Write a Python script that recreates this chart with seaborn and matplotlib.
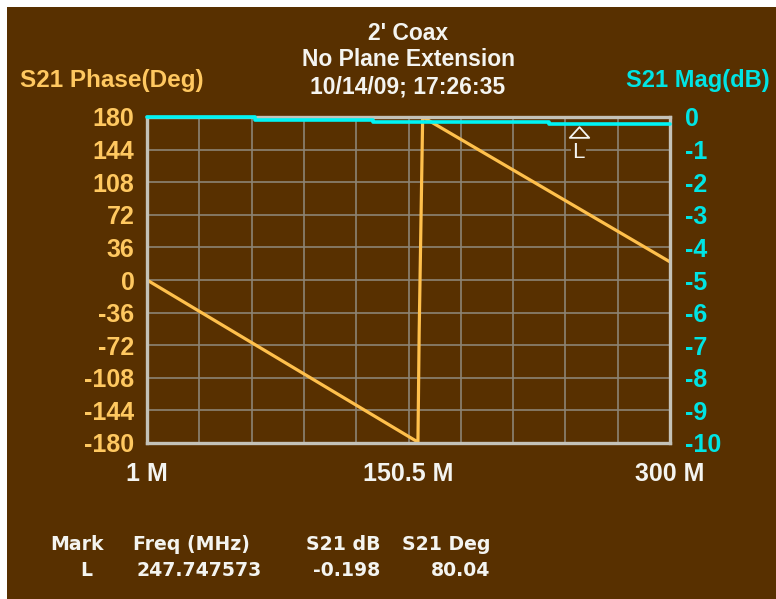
import matplotlib
matplotlib.use("Agg")
import matplotlib.pyplot as plt
import matplotlib.transforms as mtransforms
from matplotlib.patches import Rectangle
from matplotlib.path import Path
import numpy as np
import pandas as pd
import seaborn as sns

# ---- trace data -------------------------------------------------------
# S21 phase (degrees) vs frequency (MHz), wrapping at -180/+180
phase_freq = [1.0, 155.9, 156.6, 158.6, 300.0]
phase_deg = [0.0, -179.0, -58.0, 180.0, 20.0]

# S21 magnitude (dB) vs frequency (MHz)
mag_freq = [1.0, 63.0, 63.0, 130.0, 130.0, 231.0, 231.0, 300.0]
mag_db = [-0.01, -0.01, -0.09, -0.09, -0.14, -0.14, -0.20, -0.20]

# axis ticks
freq_ticks = list(np.linspace(1.0, 300.0, 11))
freq_labels = ["1 M", "", "", "", "", "150.5 M", "", "", "", "", "300 M"]
phase_ticks = [-180, -144, -108, -72, -36, 0, 36, 72, 108, 144, 180]
phase_labels = ["-180", "-144", "-108", "-72", "-36", "0", "36", "72", "108", "144", "180"]
mag_ticks = [-10, -9, -8, -7, -6, -5, -4, -3, -2, -1, 0]
mag_labels = ["-10", "-9", "-8", "-7", "-6", "-5", "-4", "-3", "-2", "-1", "0"]

# marker readout
marker_name = "L"
marker_freq = 247.747573
marker_db = -0.198
marker_deg = 80.04

# ---- style ------------------------------------------------------------
BG = "#583000"
ORANGE = "#ffc860"
TRACE_ORANGE = "#ffc04c"
CYAN_TXT = "#00e4e4"
CYAN = "#00f4f4"
GRID = "#8c8474"
FRAME = "#c4c2b8"
WHITE = "#f4f4f0"

sns.set_theme(style="dark")
plt.rcParams["font.family"] = ["Liberation Sans", "DejaVu Sans"]

W, H = 776, 599
fig = plt.figure(figsize=(W / 100, H / 100), dpi=100, facecolor=BG)
# thin white strips along the top and left edges
fig.add_artist(Rectangle((0, 1 - 7 / H), 1, 7 / H, transform=fig.transFigure,
                         facecolor="white", edgecolor="none", zorder=-5))
fig.add_artist(Rectangle((0, 0), 7 / W, 1, transform=fig.transFigure,
                         facecolor="white", edgecolor="none", zorder=-5))

ax = fig.add_axes([147 / W, 1 - 443 / H, 523 / W, 326 / H])
ax.set_facecolor(BG)

df_phase = pd.DataFrame({"freq": phase_freq, "phase": phase_deg})
df_mag = pd.DataFrame({"freq": mag_freq, "mag": mag_db})

sns.lineplot(data=df_phase, x="freq", y="phase", ax=ax, color=TRACE_ORANGE,
             lw=2.3, sort=False, estimator=None, zorder=3)
ax.set_xlim(1, 300)
ax.set_ylim(-180, 180)
ax.set_xticks(freq_ticks)
ax.set_xticklabels(freq_labels)
ax.set_yticks(phase_ticks)
ax.set_yticklabels(phase_labels)
ax.grid(True, color=GRID, lw=1.2)
ax.tick_params(axis="both", length=0)
ax.tick_params(axis="x", pad=14, labelcolor=WHITE, labelsize=18)
ax.tick_params(axis="y", pad=9, labelcolor=ORANGE, labelsize=18)
for lab in ax.get_xticklabels() + ax.get_yticklabels():
    lab.set_fontweight("bold")
ax.set_xlabel("")
ax.set_ylabel("")
for sp in ax.spines.values():
    sp.set_visible(False)

ax2 = ax.twinx()
ax2.patch.set_visible(False)
sns.lineplot(data=df_mag, x="freq", y="mag", ax=ax2, color=CYAN, lw=2.6,
             sort=False, estimator=None, zorder=4)
for ln in ax2.get_lines():
    ln.set_clip_on(False)
ax2.set_xlim(1, 300)
ax2.set_ylim(-10, 0)
ax2.set_yticks(mag_ticks)
ax2.set_yticklabels(mag_labels)
ax2.grid(False)
ax2.tick_params(axis="y", length=0, pad=11, labelcolor=CYAN_TXT, labelsize=18)
for lab in ax2.get_yticklabels():
    lab.set_fontweight("bold")
ax2.set_ylabel("")
for sp in ax2.spines.values():
    sp.set_visible(True)
    sp.set_color(FRAME)
    sp.set_linewidth(2.4)
    sp.set_zorder(2.5)

# marker symbol and its label
tri = Path([(0, 0.55), (-1, -0.55), (1, -0.55), (0, 0.55)],
           [Path.MOVETO, Path.LINETO, Path.LINETO, Path.CLOSEPOLY])
shift = mtransforms.ScaledTranslation(0, -9 / 100, fig.dpi_scale_trans)
ax2.plot([marker_freq], [marker_db], marker=tri, markersize=14, mfc=BG,
         mec=WHITE, mew=1.3, ls="none", transform=ax2.transData + shift,
         zorder=5)
ax2.annotate(marker_name, xy=(marker_freq, marker_db), xytext=(0, -21),
             textcoords="offset points", ha="center", va="center",
             color=WHITE, fontsize=16, zorder=5,
             bbox=dict(fc=BG, ec="none", pad=1.0))

# titles
def fy(py):
    return 1 - py / H

for txt, py in [("2' Coax", 34), ("No Plane Extension", 60),
                ("10/14/09; 17:26:35", 87)]:
    fig.text(408 / W, fy(py), txt, ha="center", va="center", color=WHITE,
             fontsize=16.5, fontweight="bold")
fig.text(20 / W, fy(81), "S21 Phase(Deg)", ha="left", va="center",
         color=ORANGE, fontsize=17.5, fontweight="bold")
fig.text(770 / W, fy(81), "S21 Mag(dB)", ha="right", va="center",
         color=CYAN_TXT, fontsize=17, fontweight="bold")

# marker readout table
tfont = dict(family="DejaVu Sans", fontsize=13.6, fontweight="bold",
             color=WHITE, va="center")
fig.text(50 / W, fy(545), "Mark", ha="left", **tfont)
fig.text(133 / W, fy(545), "Freq (MHz)", ha="left", **tfont)
fig.text(380 / W, fy(545), "S21 dB", ha="right", **tfont)
fig.text(490 / W, fy(545), "S21 Deg", ha="right", **tfont)
fig.text(92 / W, fy(570), marker_name, ha="right", **tfont)
fig.text(137 / W, fy(570), f"{marker_freq:.6f}", ha="left", **tfont)
fig.text(380 / W, fy(570), f"{marker_db:.3f}", ha="right", **tfont)
fig.text(490 / W, fy(570), f"{marker_deg:.2f}", ha="right", **tfont)

fig.savefig("out.png", dpi=100, facecolor=fig.get_facecolor())
